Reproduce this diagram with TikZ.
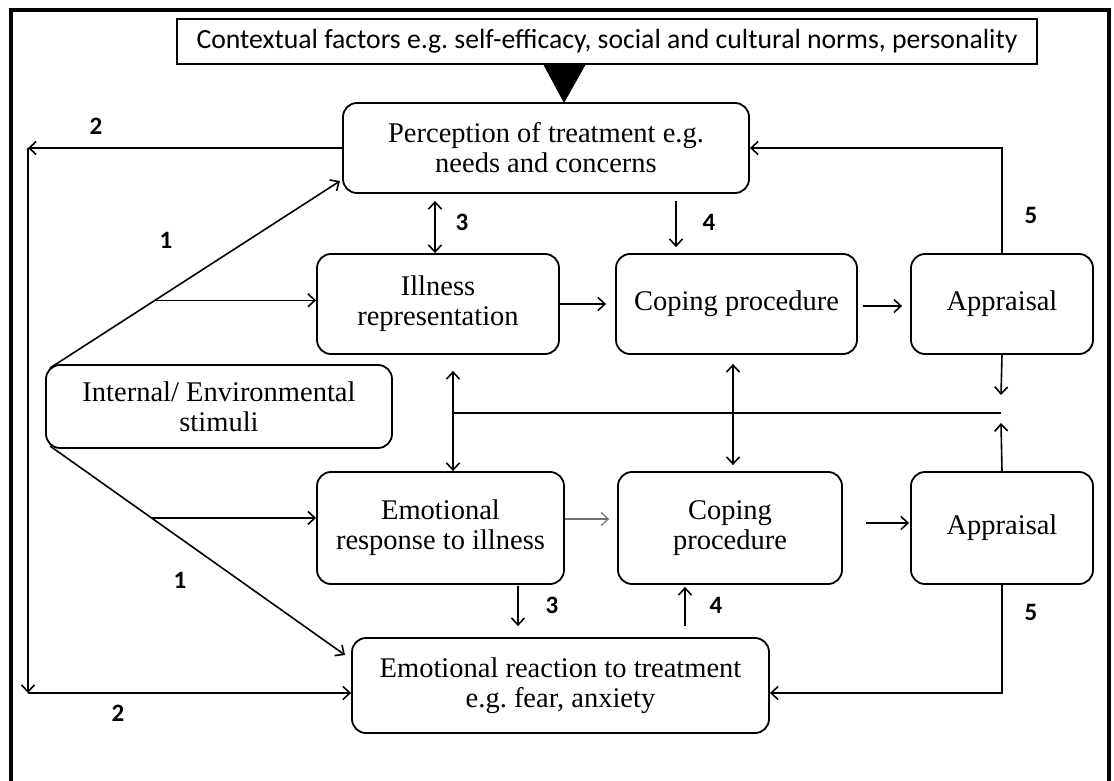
\documentclass[tikz,border=0pt]{standalone}
\usepackage{fontspec}
\setmainfont{Liberation Serif}
\newfontfamily\calib{Carlito}
\usetikzlibrary{arrows.meta,calc}
\frenchspacing

\begin{document}
\begin{tikzpicture}[x=1pt,y=-1pt,
  box/.style={draw, line width=1.8pt, rounded corners=14pt, align=center,
    inner sep=0pt, font=\fontsize{28.5}{30}\selectfont},
  arr/.style={line width=1.6pt, -{Straight Barb[length=7pt,width=13pt]}},
  darr/.style={line width=1.6pt,
    {Straight Barb[length=7pt,width=13pt]}-{Straight Barb[length=7pt,width=13pt]}},
  num/.style={font=\calib\bfseries\fontsize{25}{25}\selectfont, inner sep=0pt},
]
\useasboundingbox (0,0) rectangle (1114,781);
\clip (0,0) rectangle (1114,781);
\fill[white] (0,0) rectangle (1114,781);

% outer frame (open at the bottom)
\draw[line width=3.5pt] (11,800) -- (11,10) -- (1109,10) -- (1109,800);

% boxes
\node[draw, line width=1.4pt, minimum width=860pt, minimum height=45pt, inner sep=0pt,
  font=\calib\fontsize{27.7}{30}\selectfont] (ctx) at (607,41.5)
  {Contextual factors e.g. self-efficacy, social and cultural norms, personality};
\node[box, minimum width=406pt, minimum height=90pt] (perc) at (546,148)
  {Perception of treatment e.g.\\needs and concerns};
\node[box, minimum width=242pt, minimum height=100pt] (ill) at (438,304)
  {Illness\\representation};
\node[box, minimum width=241pt, minimum height=100pt] (cop1) at (736.5,304)
  {Coping procedure};
\node[box, minimum width=182pt, minimum height=100pt] (app1) at (1002,304)
  {Appraisal};
\node[box, minimum width=346pt, minimum height=83pt] (stim) at (219,406.5)
  {Internal/ Environmental\\stimuli};
\node[box, minimum width=247pt, minimum height=112pt] (emo) at (440.5,528)
  {Emotional\\response to illness};
\node[box, minimum width=224pt, minimum height=112pt] (cop2) at (730,528)
  {Coping\\procedure};
\node[box, minimum width=182pt, minimum height=112pt] (app2) at (1002,528)
  {Appraisal};
\node[box, minimum width=417pt, minimum height=95pt] (react) at (560.5,685.5)
  {Emotional reaction to treatment\\e.g. fear, anxiety};

% context arrowhead
\fill (543,64) -- (586,64) -- (564,103) -- cycle;

% path 1: stimuli to perceptions and emotions
\coordinate (sA) at (50,368);
\coordinate (sB) at (50,446);
\coordinate (tipA) at (340,181);
\coordinate (tipB) at (345,655);
\draw[arr] (sA) -- (tipA);
\draw[arr] (sB) -- (tipB);
\coordinate (bA) at ($(sA)!0.362!(tipA)$);
\coordinate (bB) at ($(sB)!0.344!(tipB)$);
\draw[arr] (bA) -- (bA -| ill.west);
\draw[arr] (bB) -- (bB -| emo.west);

% path 2: perception to emotional reaction
\coordinate (c2t) at (28,148);
\coordinate (c2b) at (28,693);
\draw[arr] (perc.west) -- (c2t);
\draw[arr] (c2t) -- (c2b);
\draw[arr] (c2b) -- (c2b -| react.west);

% path 3
\coordinate (x3) at (435,0);
\draw[darr] ($(perc.south -| x3)+(0,7)$) -- (ill.north -| x3);
\coordinate (x3b) at (518,0);
\draw[arr] ($(emo.south -| x3b)+(0,1)$) -- ($(react.north -| x3b)+(0,-11)$);

% path 4
\coordinate (x4) at (676,0);
\draw[arr] ($(perc.south -| x4)+(0,7)$) -- ($(cop1.north -| x4)+(0,-6)$);
\coordinate (x4b) at (685,0);
\draw[arr] ($(react.north -| x4b)+(0,-11)$) -- ($(cop2.south -| x4b)+(0,2)$);

% main flow
\draw[arr] (ill.east) -- ($(cop1.west)+(-9,0)$);
\draw[arr] ($(cop1.east)+(5,2)$) -- ($(app1.west)+(-8,2)$);
\draw[arr, black!55, line width=1.2pt] ($(emo.east)+(0,-9)$) -- ($(cop2.west)+(-8,-9)$);
\draw[arr] ($(cop2.east)+(23,-5)$) -- ($(app2.west)+(-1,-5)$);

% path 5: appraisal feedback
\draw[arr] (app1.north) -- (app1.north |- perc.east) -- (perc.east);
\coordinate (y5) at (0,693);
\draw[arr] (app2.south) -- (app2.south |- y5) -- (react.east |- y5);

% cross links between the two streams
\coordinate (jn) at (1001,413);
\coordinate (xm) at (453,0);
\coordinate (xc) at (733,0);
\draw[arr] (app1.south) -- ($(jn)+(0,-18)$);
\draw[arr] (app2.north) -- ($(jn)+(0,10)$);
\draw[line width=1.6pt] (jn) -- (jn -| xm);
\draw[darr] ($(ill.south -| xm)+(0,16)$) -- (emo.north -| xm);
\draw[darr] ($(cop1.south -| xc)+(0,9)$) -- ($(cop2.north -| xc)+(0,-6)$);

% path numbers
\node[num] (n2a) at (96,126) {2};
\node[num] (n1a) at (166,240) {1};
\node[num] (n3a) at (462,222) {3};
\node[num] (n4a) at (709,222) {4};
\node[num] (n5a) at (1031,215) {5};
\node[num] (n1b) at (180,580) {1};
\node[num] (n2b) at (118,713) {2};
\node[num] (n3b) at (552,605) {3};
\node[num] (n4b) at (716,605) {4};
\node[num] (n5b) at (1031,612) {5};
\end{tikzpicture}
\end{document}
